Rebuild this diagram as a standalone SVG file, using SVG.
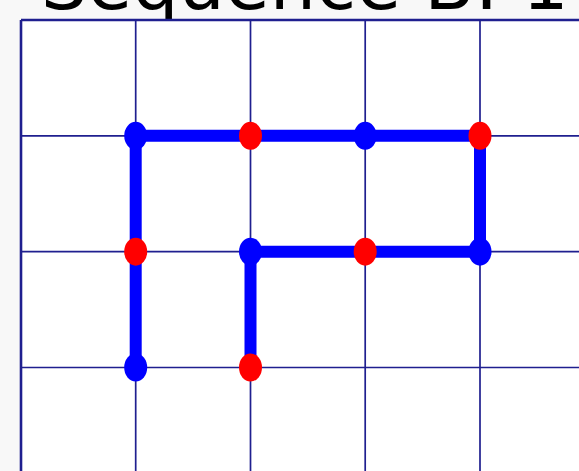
<svg xmlns="http://www.w3.org/2000/svg" width="579" height="471" viewBox="0 0 579 471">
<style>
.grid{stroke:#1f1f8f;stroke-width:1.7;fill:none}
.path{stroke:#0000ff;stroke-width:12;fill:none;stroke-linejoin:miter}
.b{fill:#0000ff}
.r{fill:#ff0000}
.title{font-family:"DejaVu Sans",Verdana,sans-serif;font-size:73px;fill:#000}
</style>
<rect x="0" y="0" width="579" height="471" fill="#f8f8f8"/>
<text class="title" x="41" y="9">Sequence B: 1</text>
<rect x="21" y="20" width="600" height="500" fill="#ffffff"/>
<g id="grid" class="grid">
<line x1="21" y1="20" x2="579" y2="20" stroke-width="2.6"/>
<line x1="21" y1="20" x2="21" y2="471" stroke-width="2.6"/>
<line x1="135.7" y1="20" x2="135.7" y2="471"/>
<line x1="250.5" y1="20" x2="250.5" y2="471"/>
<line x1="365.2" y1="20" x2="365.2" y2="471"/>
<line x1="480" y1="20" x2="480" y2="471"/>
<line x1="21" y1="135.8" x2="579" y2="135.8"/>
<line x1="21" y1="251.7" x2="579" y2="251.7"/>
<line x1="21" y1="367.5" x2="579" y2="367.5"/>
</g>
<g id="connectors">
<polyline class="path" points="135.7,367.5 135.7,135.8 480,135.8 480,251.7 250.5,251.7 250.5,367.5"/>
</g>
<g id="n1"><ellipse class="b" cx="135.7" cy="135.8" rx="11.5" ry="14"/></g>
<g id="n2"><ellipse class="r" cx="250.5" cy="135.8" rx="11.5" ry="14"/></g>
<g id="n3"><ellipse class="b" cx="365.2" cy="135.8" rx="11.5" ry="14"/></g>
<g id="n4"><ellipse class="r" cx="480" cy="135.8" rx="11.5" ry="14"/></g>
<g id="n5"><ellipse class="r" cx="135.7" cy="251.7" rx="11.5" ry="14"/></g>
<g id="n6"><ellipse class="b" cx="250.5" cy="251.7" rx="11.5" ry="14"/></g>
<g id="n7"><ellipse class="r" cx="365.2" cy="251.7" rx="11.5" ry="14"/></g>
<g id="n8"><ellipse class="b" cx="480" cy="251.7" rx="11.5" ry="14"/></g>
<g id="n9"><ellipse class="b" cx="135.7" cy="367.5" rx="11.5" ry="14"/></g>
<g id="n10"><ellipse class="r" cx="250.5" cy="367.5" rx="11.5" ry="14"/></g>
</svg>
